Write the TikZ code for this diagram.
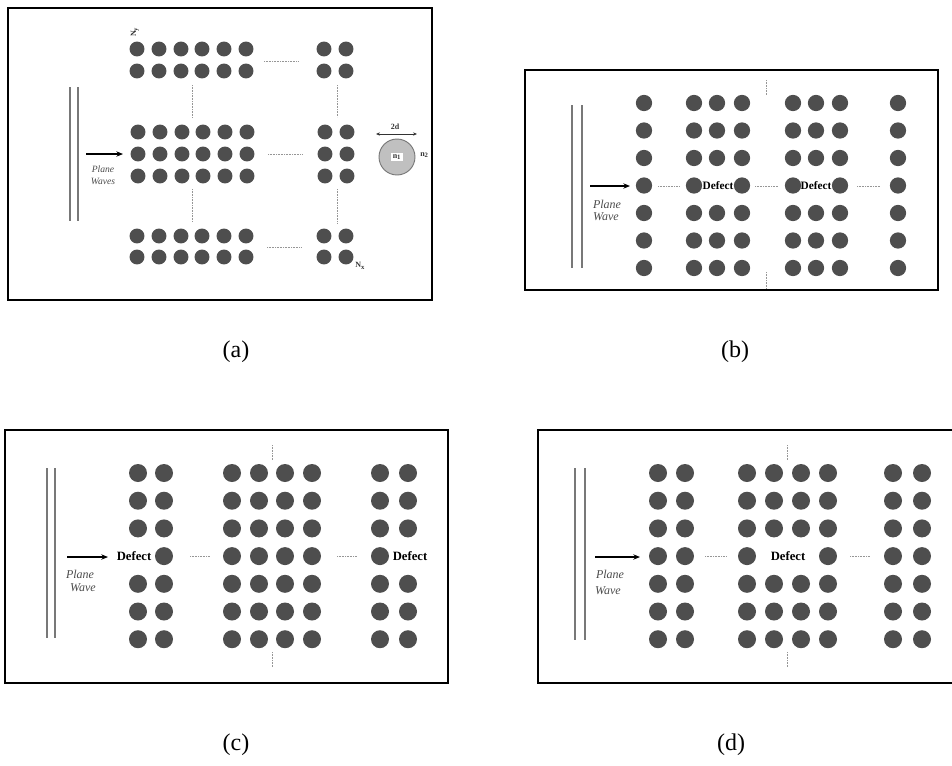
\documentclass[tikz,border=0pt]{standalone}
\usepackage{fontspec}
\setmainfont{Liberation Serif}
\usetikzlibrary{arrows.meta}
\definecolor{dotgray}{RGB}{78,78,78}
\definecolor{lensgray}{RGB}{192,192,192}
\definecolor{wavegray}{RGB}{120,120,120}
\definecolor{ellgray}{RGB}{150,150,150}
\newcommand\mydl[5]{\coordinate (#1-s) at (#2,#3); \coordinate (#1-e) at (#4,#5); \draw[ellip] (#1-s) -- (#1-e);}
\begin{document}
\begin{tikzpicture}[x=0.75pt,y=-0.75pt,
  dota/.style={circle,fill=dotgray,inner sep=0pt,minimum size=11.2pt},
  dotb/.style={circle,fill=dotgray,inner sep=0pt,minimum size=12.2pt},
  dotc/.style={circle,fill=dotgray,inner sep=0pt,minimum size=13.5pt},
  panelbox/.style={draw=black,line width=1.5pt},
  wavefront/.style={draw=wavegray,line width=0.9pt},
  ellip/.style={draw=ellgray,line width=0.6pt,dash pattern=on 0.6pt off 0.6pt},
  arr/.style={-{Stealth[length=5pt,width=4pt]},line width=0.8pt},
  lblsmall/.style={font=\fontsize{7.2}{8}\selectfont\itshape,text=black!70,inner sep=0pt},
  lblbig/.style={font=\fontsize{9}{10}\selectfont\itshape,text=black!70,inner sep=0pt},
  defect/.style={font=\fontsize{9.5}{10}\selectfont\bfseries,inner sep=0pt},
  tinylbl/.style={font=\fontsize{6}{7}\selectfont\bfseries,inner sep=0pt,text=black!80},
  caption/.style={font=\fontsize{18}{20}\selectfont,inner sep=0pt}
]
\path[use as bounding box] (0,0) rectangle (952,765);

% ================= (a) =================
\draw[panelbox] (8,8) rectangle (432,300);
\foreach \r/\y in {1/49,2/71}{
  \foreach \c/\x in {1/137,2/159,3/181,4/202,5/224,6/246,7/324,8/346}{
    \node[dota] (at-\r-\c) at (\x,\y) {};}}
\foreach \r/\y in {1/132,2/154,3/176}{
  \foreach \c/\x in {1/138,2/160,3/182,4/203,5/225,6/247,7/325,8/347}{
    \node[dota] (am-\r-\c) at (\x,\y) {};}}
\foreach \r/\y in {1/236,2/257}{
  \foreach \c/\x in {1/137,2/159,3/181,4/202,5/224,6/246,7/324,8/346}{
    \node[dota] (ab-\r-\c) at (\x,\y) {};}}
\mydl{a-h1}{264}{61}{298}{61}
\mydl{a-h2}{268}{154}{302}{154}
\mydl{a-h3}{267}{247}{302}{247}
\mydl{a-v1}{192}{85}{192}{118}
\mydl{a-v2}{192}{189}{192}{222}
\mydl{a-v3}{337}{85}{337}{117}
\mydl{a-v4}{337}{189}{337}{223}
\draw[wavefront] (70,87) -- (70,221);
\draw[wavefront] (78,87) -- (78,221);
\coordinate (a-src) at (86,154);
\coordinate (a-tip) at (123,154);
\draw[arr] (a-src) -- (a-tip);
\node[lblsmall] (a-pl) at (103,169) {Plane};
\node[lblsmall] (a-wv) at (103,181) {Waves};
\node[tinylbl,rotate=90] (a-ny) at (135,32) {N\textsubscript{y}};
\node[tinylbl,anchor=west] (a-nx) at (355,266) {N\textsubscript{x}};
\node[circle,draw=wavegray,fill=lensgray,line width=0.7pt,minimum size=27pt,inner sep=0pt] (a-lens) at (397,157) {};
\node[tinylbl,fill=white,inner sep=1pt] (a-n1) at (a-lens) {n\textsubscript{1}};
\node[tinylbl,anchor=west] (a-n2) at (420,155) {n\textsubscript{2}};
\coordinate (a-d1) at (376,134);
\coordinate (a-d2) at (417,134);
\draw[{Stealth[length=3pt,width=2.5pt]}-{Stealth[length=3pt,width=2.5pt]},line width=0.5pt,draw=black!80] (a-d1) -- (a-d2);
\node[tinylbl] (a-2d) at (395,127) {2d};
\node[caption] (cap-a) at (236,352) {(a)};

% ================= (b) =================
\draw[panelbox] (525,70) rectangle (938,290);
\foreach \r in {0,1,2,4,5,6}{
  \pgfmathsetmacro\yy{103+27.5*\r}
  \foreach \c/\x in {1/644,2/694,3/717,4/742,5/793,6/816,7/840,8/898}{
    \node[dotb] (b-\r-\c) at (\x,\yy) {};}}
\foreach \c/\x in {1/644,2/694,4/742,5/793,7/840,8/898}{
  \node[dotb] (b-3-\c) at (\x,185.5) {};}
\node[defect,font=\fontsize{8.5}{9}\selectfont\bfseries] (b-def1) at (718,185.5) {Defect};
\node[defect,font=\fontsize{8.5}{9}\selectfont\bfseries] (b-def2) at (816,185.5) {Defect};
\mydl{b-h1}{658}{186}{680}{186}
\mydl{b-h2}{755}{186}{778}{186}
\mydl{b-h3}{857}{186}{880}{186}
\mydl{b-v1}{766}{80}{766}{95}
\mydl{b-v2}{766}{272}{766}{289}
\draw[wavefront] (572,105) -- (572,268);
\draw[wavefront] (582,105) -- (582,268);
\coordinate (b-src) at (590,186);
\coordinate (b-tip) at (630,186);
\draw[arr] (b-src) -- (b-tip);
\node[lblbig] (b-pl) at (607,204) {Plane};
\node[lblbig] (b-wv) at (606,217) {Wave};
\node[caption] (cap-b) at (735,352) {(b)};

% ================= (c) =================
\draw[panelbox] (5,430) rectangle (448,683);
\foreach \r in {0,1,2,4,5,6}{
  \pgfmathsetmacro\yy{473+27.7*\r}
  \foreach \c/\x in {1/138,2/164,3/232,4/259,5/285,6/312,7/380,8/408}{
    \node[dotc] (c-\r-\c) at (\x,\yy) {};}}
\foreach \c/\x in {2/164,3/232,4/259,5/285,6/312,7/380}{
  \node[dotc] (c-3-\c) at (\x,556.1) {};}
\node[defect] (c-def1) at (134,556.1) {Defect};
\node[defect] (c-def2) at (410,556.1) {Defect};
\mydl{c-h1}{190}{556}{210}{556}
\mydl{c-h2}{337}{556}{357}{556}
\mydl{c-v1}{272}{445}{272}{460}
\mydl{c-v2}{272}{652}{272}{667}
\draw[wavefront] (47,468) -- (47,638);
\draw[wavefront] (55,468) -- (55,638);
\coordinate (c-src) at (67,557);
\coordinate (c-tip) at (108,557);
\draw[arr] (c-src) -- (c-tip);
\node[lblbig] (c-pl) at (80,574) {Plane};
\node[lblbig] (c-wv) at (83,588) {Wave};
\node[caption] (cap-c) at (236,745) {(c)};

% ================= (d) =================
\draw[panelbox] (952,430) -- (538,430) -- (538,683) -- (952,683);
\foreach \r in {0,1,2,4,5,6}{
  \pgfmathsetmacro\yy{473+27.7*\r}
  \foreach \c/\x in {1/658,2/685,3/747,4/774,5/801,6/828,7/893,8/922}{
    \node[dotc] (d-\r-\c) at (\x,\yy) {};}}
\foreach \c/\x in {1/658,2/685,3/747,6/828,7/893,8/922}{
  \node[dotc] (d-3-\c) at (\x,556.1) {};}
\node[defect] (d-def) at (788,556.1) {Defect};
\mydl{d-h1}{705}{556}{727}{556}
\mydl{d-h2}{850}{556}{870}{556}
\mydl{d-v1}{787}{445}{787}{460}
\mydl{d-v2}{787}{652}{787}{667}
\draw[wavefront] (575,468) -- (575,640);
\draw[wavefront] (585,468) -- (585,640);
\coordinate (d-src) at (595,557);
\coordinate (d-tip) at (640,557);
\draw[arr] (d-src) -- (d-tip);
\node[lblbig] (d-pl) at (610,574) {Plane};
\node[lblbig] (d-wv) at (608,591) {Wave};
\node[caption] (cap-d) at (731,745) {(d)};
\end{tikzpicture}
\end{document}
